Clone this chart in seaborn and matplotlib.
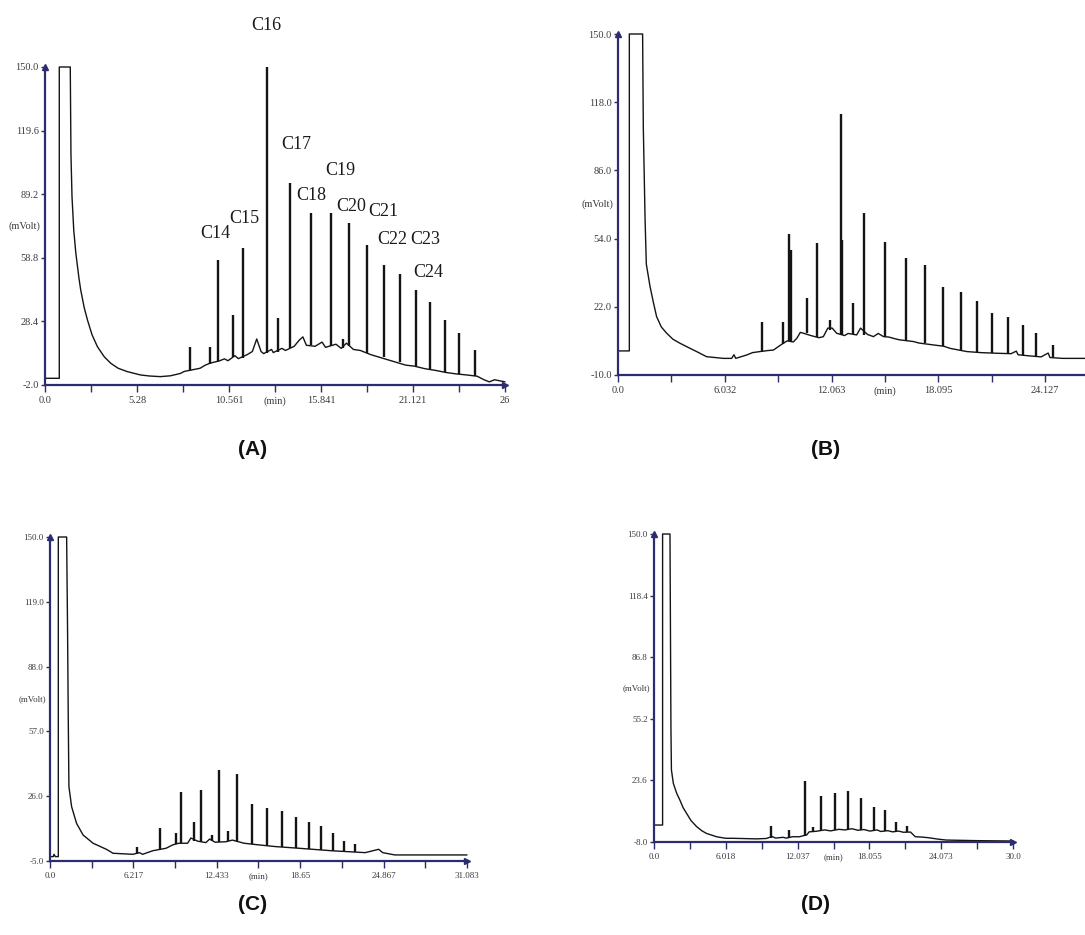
import matplotlib
matplotlib.use("Agg")
import matplotlib.pyplot as plt
import seaborn as sns

# ---------------- Panel A ----------------
a_trace_t = [0.0, 0.82, 0.82, 1.45, 1.49, 1.55, 1.65, 1.77, 1.95, 2.05, 2.25, 2.44, 2.7, 3.01, 3.4,
             3.77, 4.2, 4.72, 5.48, 6.0, 6.62, 7.2, 7.76, 8.0, 8.6, 8.9, 9.2, 9.5, 10.0, 10.3, 10.5,
             10.9, 11.1, 11.6, 11.9, 12.15, 12.4, 12.55, 13.0, 13.1, 13.6, 13.8, 14.3, 14.6, 14.8,
             15.0, 15.5, 15.9, 16.1, 16.7, 17.0, 17.3, 17.7, 18.1, 18.7, 19.1, 19.7, 20.1, 20.7,
             21.2, 21.8, 22.4, 23.0, 23.6, 24.2, 24.8, 25.2, 25.5, 25.8, 26.4]
a_trace_v = [1.2, 1.2, 150.0, 150.0, 108.0, 88.0, 72.0, 61.0, 49.0, 43.4, 35.0, 29.0, 22.0, 16.3, 11.5,
             8.4, 6.0, 4.4, 2.8, 2.3, 2.0, 2.4, 3.5, 4.5, 5.5, 6.0, 7.5, 8.5, 9.5, 10.5, 9.6,
             12.0, 10.6, 12.5, 14.0, 20.0, 14.0, 13.0, 15.0, 13.5, 15.5, 14.5, 16.5, 19.5, 21.0,
             17.0, 16.5, 18.5, 16.0, 17.5, 15.5, 18.0, 15.0, 14.5, 12.5, 11.5, 10.0, 9.0, 7.5,
             7.0, 5.8, 5.0, 4.0, 3.3, 2.8, 2.2, 0.5, -0.5, 0.5, -0.5]
a_peak_t = [8.3, 9.45, 9.9, 10.8, 11.35, 12.75, 13.38, 14.05, 15.25, 16.4, 17.1, 17.47, 18.5, 19.47,
            20.38, 21.28, 22.12, 22.95, 23.78, 24.68]
a_peak_top = [16.3, 16.3, 57.7, 31.4, 63.3, 150.0, 29.8, 94.7, 80.0, 80.0, 20.0, 75.5, 64.9, 55.3,
              51.0, 43.4, 37.8, 29.1, 22.7, 14.7]
a_peak_foot = [4.5, 8.0, 9.5, 11.5, 11.0, 13.5, 14.0, 15.5, 17.0, 16.5, 15.5, 16.5, 13.5, 11.2,
               9.0, 7.0, 5.5, 4.0, 3.2, 2.5]
a_label_text = ["C14", "C15", "C16", "C17", "C18", "C19", "C20", "C21", "C22", "C23", "C24"]
a_label_t = [9.8, 11.45, 12.7, 14.4, 15.3, 16.95, 17.6, 19.4, 19.95, 21.85, 22.0]
a_label_v = [70.5, 77.6, 170.0, 113.0, 88.5, 100.5, 83.5, 81.0, 67.5, 67.5, 52.0]
a_yticks = [-2.0, 28.4, 58.8, 89.2, 119.6, 150.0]
a_ytick_labels = ["-2.0", "28.4", "58.8", "89.2", "119.6", "150.0"]
a_xticks = [0.0, 2.64, 5.28, 7.92, 10.561, 13.2, 15.841, 18.48, 21.121, 23.76, 26.4]
a_xtick_labels = ["0.0", "", "5.28", "", "10.561", "(min)", "15.841", "", "21.121", "", "26"]

# ---------------- Panel B ----------------
b_trace_t = [0.0, 0.64, 0.64, 1.39, 1.43, 1.53, 1.6, 1.81, 2.0, 2.18, 2.45, 2.75, 3.1, 3.5, 4.0,
             4.44, 5.0, 5.95, 6.42, 6.55, 6.65, 7.27, 7.6, 8.02, 8.5, 8.78, 9.0, 9.34, 9.55, 9.9,
             10.1, 10.3, 10.47, 10.9, 11.35, 11.6, 11.85, 12.1, 12.35, 12.8, 13.0, 13.48, 13.7,
             14.1, 14.43, 14.7, 15.0, 15.3, 15.56, 15.9, 16.69, 17.0, 17.82, 18.4, 18.76, 19.7,
             20.5, 21.4, 22.2, 22.5, 22.6, 23.2, 23.9, 24.3, 24.4, 25.12, 26.38]
b_trace_v = [1.3, 1.3, 150.0, 150.0, 106.0, 62.8, 42.0, 31.5, 24.0, 17.4, 12.5, 9.6, 6.8, 4.9, 2.8,
             1.0, -1.4, -2.2, -2.2, -0.5, -2.2, -0.6, 0.5, 1.0, 1.5, 1.7, 3.0, 4.9, 6.0, 5.5,
             7.2, 10.0, 9.6, 8.5, 7.5, 8.0, 12.0, 12.0, 9.6, 8.5, 9.5, 8.8, 12.0,
             9.0, 8.0, 9.5, 8.0, 7.8, 7.2, 6.5, 5.7, 5.0, 4.1, 3.5, 2.5, 1.0,
             0.5, 0.2, 0.0, 1.2, -0.5, -1.0, -1.5, 0.3, -1.8, -2.2, -2.2]
b_peak_t = [8.14, 9.32, 9.68, 9.76, 10.68, 11.23, 11.98, 12.59, 12.66, 13.28, 13.92, 15.08, 16.28,
            17.32, 18.34, 19.36, 20.28, 21.14, 22.05, 22.87, 23.63, 24.6]
b_peak_top = [15.0, 15.0, 56.0, 48.7, 26.0, 51.9, 15.8, 112.4, 53.4, 23.7, 65.8, 52.6, 45.0,
              41.7, 31.3, 29.1, 24.9, 19.2, 17.4, 13.6, 9.6, 3.9]
b_peak_foot = [0.8, 4.5, 5.8, 5.8, 9.5, 7.6, 11.0, 8.6, 8.6, 9.3, 9.0, 8.0, 6.0,
               4.9, 3.6, 1.3, 0.6, 0.2, 0.0, -0.8, -1.3, -1.7]
b_yticks = [-10.0, 22.0, 54.0, 86.0, 118.0, 150.0]
b_ytick_labels = ["-10.0", "22.0", "54.0", "86.0", "118.0", "150.0"]
b_xticks = [0.0, 3.016, 6.032, 9.048, 12.063, 15.08, 18.095, 21.111, 24.127]
b_xtick_labels = ["0.0", "", "6.032", "", "12.063", "(min)", "18.095", "", "24.127"]

# ---------------- Panel C ----------------
c_trace_t = [0.0, 0.25, 0.3, 0.4, 0.62, 0.62, 1.24, 1.31, 1.36, 1.41, 1.61, 1.98, 2.47, 3.21, 4.2,
             4.7, 6.18, 6.67, 6.9, 7.66, 8.65, 9.15, 9.6, 10.26, 10.5, 11.0, 11.62, 11.9, 12.3,
             13.1, 13.6, 14.46, 15.57, 16.8, 18.54, 21.0, 23.5, 24.5, 24.8, 25.7, 31.083]
c_trace_v = [-2.9, -2.9, -1.8, -2.9, -2.9, 150.0, 150.0, 104.7, 64.0, 30.6, 21.0, 13.0, 7.4, 3.5, 0.6,
             -1.3, -1.8, -1.0, -1.8, -0.1, 1.1, 2.7, 3.5, 3.5, 6.0, 4.5, 3.8, 5.5, 4.0,
             4.2, 5.0, 3.5, 2.7, 1.9, 1.1, -0.1, -1.0, 0.6, -1.0, -2.1, -2.1]
c_peak_t = [6.48, 8.21, 9.39, 9.79, 10.7, 11.24, 12.04, 12.6, 13.25, 13.92, 15.08, 16.21, 17.28,
            18.31, 19.29, 20.19, 21.1, 21.89, 22.75]
c_peak_top = [1.5, 10.6, 8.2, 27.8, 13.8, 29.1, 7.4, 38.5, 9.5, 36.6, 22.2, 20.2, 19.1,
              16.2, 13.8, 11.7, 8.6, 4.4, 3.1]
c_peak_foot = [-1.6, 0.8, 3.0, 3.5, 4.8, 4.0, 4.5, 4.1, 4.5, 4.3, 3.0, 2.3, 1.7,
               1.2, 0.8, 0.3, 0.0, -0.3, -0.6]
c_yticks = [-5.0, 26.0, 57.0, 88.0, 119.0, 150.0]
c_ytick_labels = ["-5.0", "26.0", "57.0", "88.0", "119.0", "150.0"]
c_xticks = [0.0, 3.108, 6.217, 9.325, 12.433, 15.54, 18.65, 21.758, 24.867, 27.975, 31.083]
c_xtick_labels = ["0.0", "", "6.217", "", "12.433", "(min)", "18.65", "", "24.867", "", "31.083"]

# ---------------- Panel D ----------------
d_trace_t = [0.0, 0.72, 0.72, 1.34, 1.38, 1.42, 1.46, 1.62, 1.9, 2.17, 2.45, 2.73, 3.1, 3.57, 4.0,
             4.4, 5.24, 6.0, 6.63, 8.58, 9.4, 9.9, 10.2, 10.8, 11.1, 11.6, 12.2, 12.5, 12.8, 13.0,
             13.6, 14.3, 14.8, 15.5, 16.0, 16.6, 17.1, 17.6, 18.1, 18.7, 19.0, 19.6, 20.0, 20.5,
             20.9, 21.5, 21.9, 22.5, 23.0, 23.9, 24.5, 27.0, 30.09]
d_trace_v = [0.7, 0.7, 150.0, 150.0, 100.0, 50.0, 29.0, 22.1, 17.0, 13.5, 9.5, 6.7, 3.0, -0.1, -2.2,
             -3.6, -5.3, -6.1, -6.1, -6.4, -6.2, -5.2, -6.0, -5.6, -6.0, -5.3, -5.3, -4.8, -4.4, -2.8,
             -2.5, -1.8, -2.3, -1.5, -1.8, -1.2, -2.0, -1.6, -2.4, -1.8, -2.6, -2.2, -2.8, -2.4,
             -3.0, -2.9, -5.3, -5.5, -5.8, -6.6, -7.0, -7.3, -7.5]
d_peak_t = [9.78, 11.31, 12.65, 13.31, 13.98, 15.13, 16.28, 17.36, 18.4, 19.34, 20.26, 21.17]
d_peak_top = [0.2, -1.8, 23.2, -0.1, 15.4, 17.0, 18.0, 14.6, 10.1, 8.4, 2.4, 0.1]
d_peak_foot = [-5.8, -5.9, -4.9, -2.8, -2.4, -1.6, -1.4, -1.9, -2.3, -2.4, -2.6, -2.9]
d_yticks = [-8.0, 23.6, 55.2, 86.8, 118.4, 150.0]
d_ytick_labels = ["-8.0", "23.6", "55.2", "86.8", "118.4", "150.0"]
d_xticks = [0.0, 3.009, 6.018, 9.028, 12.037, 15.046, 18.055, 21.064, 24.073, 27.082, 30.09]
d_xtick_labels = ["0.0", "", "6.018", "", "12.037", "(min)", "18.055", "", "24.073", "", "30.0"]

panel_names = ["(A)", "(B)", "(C)", "(D)"]

# ---------------- drawing ----------------
sns.set_theme(style="white")
plt.rcParams["font.family"] = ["Liberation Serif", "DejaVu Serif"]

W, H = 1085, 935
fig = plt.figure(figsize=(W / 100, H / 100), dpi=100)
fig.patch.set_facecolor("white")

AXIS_COL = "#2c2c6e"
TRACE_COL = "#141414"

panels = [
    dict(rect=(45, 67, 505, 385), xlim=(0, 26.4), ylim=(-2.0, 150.0), t=a_trace_t, v=a_trace_v,
         pt=a_peak_t, ptop=a_peak_top, pfoot=a_peak_foot, yt=a_yticks, ytl=a_ytick_labels,
         xt=a_xticks, xtl=a_xtick_labels, mv=74.0, fs=7.5, arrow_x=True),
    dict(rect=(618, 34, 1085, 375), xlim=(0, 26.38), ylim=(-10.0, 150.0), t=b_trace_t, v=b_trace_v,
         pt=b_peak_t, ptop=b_peak_top, pfoot=b_peak_foot, yt=b_yticks, ytl=b_ytick_labels,
         xt=b_xticks, xtl=b_xtick_labels, mv=70.0, fs=7.5, arrow_x=False),
    dict(rect=(50, 537, 467, 861), xlim=(0, 31.083), ylim=(-5.0, 150.0), t=c_trace_t, v=c_trace_v,
         pt=c_peak_t, ptop=c_peak_top, pfoot=c_peak_foot, yt=c_yticks, ytl=c_ytick_labels,
         xt=c_xticks, xtl=c_xtick_labels, mv=72.5, fs=6.5, arrow_x=True),
    dict(rect=(654, 534, 1013, 842), xlim=(0, 30.09), ylim=(-8.0, 150.0), t=d_trace_t, v=d_trace_v,
         pt=d_peak_t, ptop=d_peak_top, pfoot=d_peak_foot, yt=d_yticks, ytl=d_ytick_labels,
         xt=d_xticks, xtl=d_xtick_labels, mv=71.0, fs=6.5, arrow_x=True),
]

axes = []
for p in panels:
    x0, y0, x1, y1 = p["rect"]
    ax = fig.add_axes([x0 / W, 1 - y1 / H, (x1 - x0) / W, (y1 - y0) / H])
    ax.set_facecolor("none")
    sns.lineplot(x=p["t"], y=p["v"], ax=ax, sort=False, estimator=None,
                 color=TRACE_COL, linewidth=1.0)
    for ln in ax.lines:
        ln.set_clip_on(False)
    ax.vlines(p["pt"], p["pfoot"], p["ptop"], colors=TRACE_COL, linewidth=1.7)
    ax.set_xlim(*p["xlim"])
    ax.set_ylim(*p["ylim"])
    ax.set_xticks(p["xt"])
    ax.set_xticklabels(p["xtl"])
    ax.set_yticks(p["yt"])
    ax.set_yticklabels(p["ytl"])
    ax.set_xlabel("")
    ax.set_ylabel("")
    for s in ["top", "right"]:
        ax.spines[s].set_visible(False)
    for s in ["left", "bottom"]:
        ax.spines[s].set_color(AXIS_COL)
        ax.spines[s].set_linewidth(1.6)
    ax.tick_params(axis="y", direction="out", length=3, width=1.0, color=AXIS_COL,
                   pad=1.5, labelsize=p["fs"], labelcolor="#3a3a3a")
    ax.tick_params(axis="x", direction="out", length=5, width=1.0, color=AXIS_COL,
                   pad=3, labelsize=p["fs"], labelcolor="#3a3a3a", bottom=True)
    ax.tick_params(axis="y", left=True)
    ax.grid(False)
    # axis arrowheads
    ax.plot([0], [1], marker="^", markersize=5, color=AXIS_COL, transform=ax.transAxes,
            clip_on=False)
    if p["arrow_x"]:
        ax.plot([1], [0], marker=">", markersize=5, color=AXIS_COL, transform=ax.transAxes,
                clip_on=False)
    # y unit label
    ax.annotate("(mVolt)", xy=(0, p["mv"]), xycoords=("axes fraction", "data"),
                xytext=(-3, 0), textcoords="offset points", ha="right", va="center",
                fontsize=p["fs"], color="#3a3a3a")
    axes.append(ax)

# compound labels in panel A
axA = axes[0]
for txt, tt, vv in zip(a_label_text, a_label_t, a_label_v):
    axA.text(tt, vv, txt, ha="center", va="center", fontsize=13, color="#1a1a1a",
             clip_on=False)

# panel captions
cap_pos = [(253, 450), (826, 450), (253, 905), (815, 905)]
for name, (cx, cy) in zip(panel_names, cap_pos):
    fig.text(cx / W, 1 - cy / H, name, ha="center", va="center", fontsize=15,
             fontweight="bold", family=["Liberation Sans", "DejaVu Sans"], color="#111111")

fig.savefig("out.png", dpi=100, facecolor="white")
